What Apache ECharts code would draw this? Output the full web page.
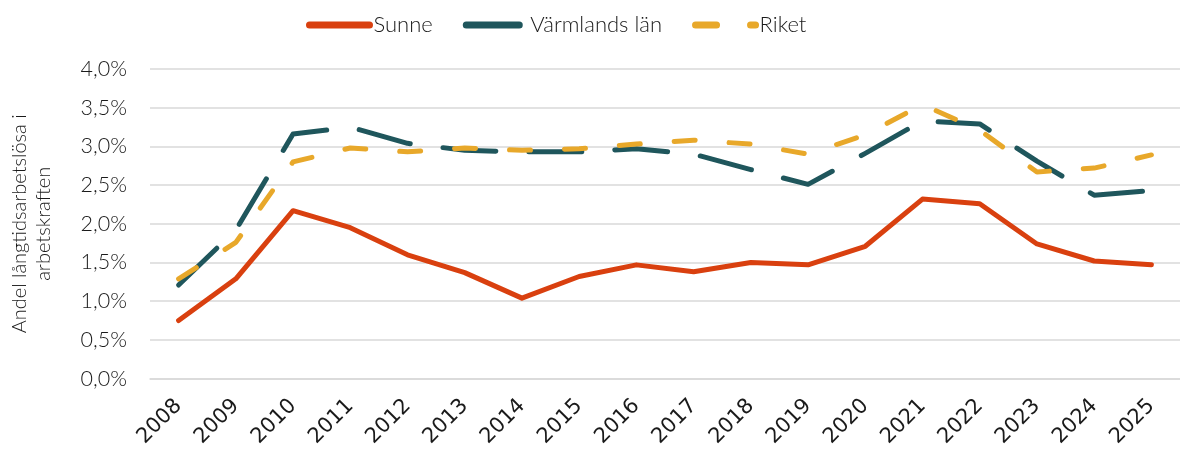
<!DOCTYPE html>
<html>
<head>
<meta charset="utf-8">
<script src="https://cdn.jsdelivr.net/npm/echarts@6/dist/echarts.min.js"></script>
<style>
html,body{margin:0;padding:0;background:#fff;}
#chart{width:1180px;height:450px;}
</style>
</head>
<body>
<div id="chart"></div>
<script>
const years = ['2008','2009','2010','2011','2012','2013','2014','2015','2016','2017','2018','2019','2020','2021','2022','2023','2024','2025'];
const sunne = [0.75,1.29,2.17,1.95,1.60,1.37,1.04,1.32,1.47,1.38,1.50,1.47,1.71,2.32,2.26,1.74,1.52,1.47];
const varmland = [1.21,1.92,3.16,3.25,3.04,2.95,2.93,2.93,2.97,2.90,2.70,2.51,2.91,3.33,3.29,2.81,2.37,2.43];
const riket = [1.29,1.76,2.80,2.98,2.93,2.98,2.95,2.97,3.03,3.08,3.03,2.90,3.15,3.54,3.21,2.67,2.72,2.89];
const seriesNames = ['Sunne','Värmlands län','Riket'];
const yAxisName = 'Andel långtidsarbetslösa i\narbetskraften';

const LIGHT = 'Lato';
const chart = echarts.init(document.getElementById('chart'), null, {renderer:'canvas'});
chart.setOption({
  animation:false,
  textStyle:{fontFamily:LIGHT, fontWeight:300, color:'#1a1a1a'},
  legend:{
    top:9, left:301,
    itemWidth:60, itemHeight:8, itemGap:30,
    itemStyle:{opacity:0},
    lineStyle:{width:7},
    textStyle:{fontSize:22, fontFamily:LIGHT, fontWeight:300, color:'#1a1a1a', padding:[0,0,0,-1]},
    data:seriesNames
  },
  grid:{left:138, right:0, top:69, bottom:69, containLabel:false},
  xAxis:{
    type:'category', data:years, boundaryGap:true,
    axisLine:{show:true, lineStyle:{color:'#d9d9d9', width:1.5}},
    axisTick:{show:false},
    axisLabel:{rotate:45, fontSize:21, fontFamily:'"DejaVu Sans"', fontWeight:'normal', color:'#1a1a1a', margin:24, interval:0}
  },
  yAxis:{
    type:'value', min:0, max:4, interval:0.5,
    name:yAxisName, nameLocation:'middle', nameGap:94, nameRotate:90,
    nameTextStyle:{fontSize:20, fontFamily:LIGHT, fontWeight:300, color:'#1a1a1a', lineHeight:24},
    axisLine:{show:false}, axisTick:{show:false},
    splitLine:{lineStyle:{color:'#d9d9d9', width:1.5}},
    axisLabel:{fontSize:21.5, fontFamily:LIGHT, fontWeight:300, color:'#1a1a1a', margin:23,
      formatter:v=>v.toFixed(1).replace('.',',')+'%'}
  },
  series:[
    {name:seriesNames[0], type:'line', data:sunne, symbol:'none', z:3,
      lineStyle:{color:'#D9400F', width:5, cap:'round', join:'round'}, itemStyle:{color:'#D9400F'}},
    {name:seriesNames[1], type:'line', data:varmland, symbol:'none', z:2,
      lineStyle:{color:'#1F565C', width:5, type:[53,33], cap:'round', join:'round'}, itemStyle:{color:'#1F565C'}},
    {name:seriesNames[2], type:'line', data:riket, symbol:'none', z:4,
      lineStyle:{color:'#E8A82A', width:5, type:[21,34], cap:'round', join:'round'}, itemStyle:{color:'#E8A82A'}}
  ]
});
</script>
</body>
</html>
